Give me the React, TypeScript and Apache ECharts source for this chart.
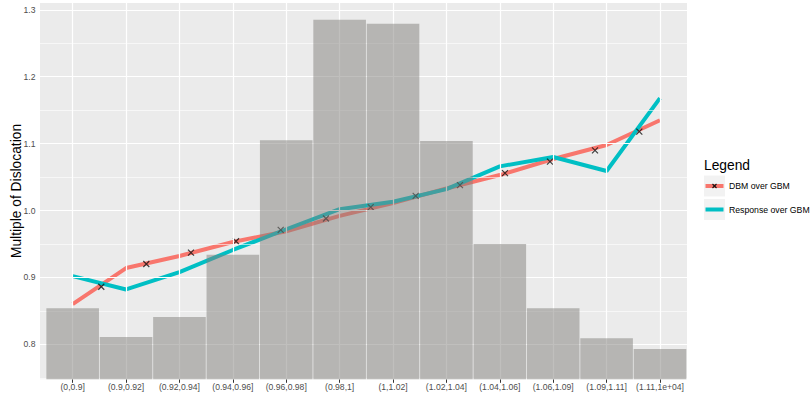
import { useEffect, useRef } from "react";
import * as echarts from "echarts";

// Return buckets on the x axis
const categories = [
  "(0,0.9]",
  "(0.9,0.92]",
  "(0.92,0.94]",
  "(0.94,0.96]",
  "(0.96,0.98]",
  "(0.98,1]",
  "(1,1.02]",
  "(1.02,1.04]",
  "(1.04,1.06]",
  "(1.06,1.09]",
  "(1.09,1.11]",
  "(1.11,1e+04]",
];

// Histogram heights per bucket (scaled to the dislocation axis)
const barValues = [0.854, 0.811, 0.841, 0.934, 1.105, 1.285, 1.279, 1.104, 0.95, 0.854, 0.809, 0.793];

// Line series, one value per bucket
const dbmOverGbm = [0.86, 0.914, 0.932, 0.953, 0.969, 0.992, 1.011, 1.033, 1.053, 1.077, 1.098, 1.135];
const responseOverGbm = [0.902, 0.882, 0.908, 0.941, 0.972, 1.002, 1.013, 1.032, 1.066, 1.08, 1.059, 1.168];

// DBM point estimates ("x" markers), x in bucket-index units
const markerX = [0.536, 1.379, 2.216, 3.059, 3.896, 4.744, 5.582, 6.424, 7.254, 8.097, 8.94, 9.783, 10.613];
const markerY = [0.886, 0.92, 0.937, 0.954, 0.971, 0.988, 1.005, 1.022, 1.038, 1.056, 1.073, 1.09, 1.118];

// Axis ticks
const yMajor = [0.8, 0.9, 1.0, 1.1, 1.2, 1.3];
const yMinor = [0.75, 0.85, 0.95, 1.05, 1.15, 1.25];
const xTicks = categories.map((_, i) => i);

const RED = "#F8766D";
const TEAL = "#00BFC4";
const FONT = "'Liberation Sans', Arial, Helvetica, sans-serif";

export default function App() {
  const ref = useRef<HTMLDivElement>(null);

  useEffect(() => {
    if (!ref.current) return;
    const chart = echarts.init(ref.current, null, { renderer: "svg" });

    const gridLines = [
      ...yMajor.map((v) => ({ yAxis: v, lineStyle: { color: "#FFFFFF", width: 1.2, type: "solid" } })),
      ...yMinor.map((v) => ({ yAxis: v, lineStyle: { color: "#FFFFFF", width: 0.6, type: "solid" } })),
      ...xTicks.map((v) => ({ xAxis: v, lineStyle: { color: "#FFFFFF", width: 1.2, type: "solid" } })),
    ];

    const xMark = "path://M0,0L10,10M10,0L0,10";

    chart.setOption({
      animation: false,
      textStyle: { fontFamily: FONT },
      grid: {
        left: 40,
        right: 125,
        top: 3,
        bottom: 16.7,
        show: true,
        backgroundColor: "#EBEBEB",
        borderWidth: 0,
        outerBoundsMode: "none",
      },
      xAxis: {
        type: "value",
        min: -0.612,
        max: 11.506,
        axisLine: { show: false },
        splitLine: { show: false },
        axisTick: {
          show: true,
          customValues: xTicks,
          length: 3.5,
          lineStyle: { color: "#333333", width: 1 },
        },
        axisLabel: {
          customValues: xTicks,
          formatter: (v: number) => categories[Math.round(v)] ?? "",
          color: "#4D4D4D",
          fontSize: 8.6,
          fontFamily: FONT,
          margin: 3,
        },
      },
      yAxis: {
        type: "value",
        min: 0.7477,
        max: 1.3102,
        axisLine: { show: false },
        splitLine: { show: false },
        axisTick: {
          show: true,
          customValues: yMajor,
          length: 3.5,
          lineStyle: { color: "#333333", width: 1 },
        },
        axisLabel: {
          customValues: yMajor,
          formatter: (v: number) => v.toFixed(1),
          color: "#4D4D4D",
          fontSize: 8.6,
          fontFamily: FONT,
          margin: 4.5,
        },
      },
      series: [
        {
          name: "grid",
          type: "line",
          data: [],
          z: 0,
          silent: true,
          markLine: {
            silent: true,
            symbol: ["none", "none"],
            label: { show: false },
            data: gridLines,
            animation: false,
          },
        },
        {
          name: "DBM over GBM",
          type: "line",
          data: dbmOverGbm.map((v, i) => [i, v]),
          showSymbol: false,
          symbol: "none",
          lineStyle: { color: RED, width: 4 },
          z: 2,
          silent: true,
        },
        {
          name: "Response over GBM",
          type: "line",
          data: responseOverGbm.map((v, i) => [i, v]),
          showSymbol: false,
          symbol: "none",
          lineStyle: { color: TEAL, width: 4 },
          z: 2,
          silent: true,
        },
        {
          name: "DBM points",
          type: "scatter",
          data: markerX.map((x, i) => [x, markerY[i]]),
          symbol: xMark,
          symbolSize: 6,
          itemStyle: { color: "rgba(0,0,0,0)", borderColor: "#111111", borderWidth: 1.2 },
          z: 3,
          silent: true,
        },
        {
          name: "histogram",
          type: "bar",
          data: barValues.map((v, i) => [i, v]),
          barWidth: 52.6,
          itemStyle: { color: "rgba(130,127,124,0.5)" },
          z: 10,
          silent: true,
        },
      ],
      graphic: [
        {
          type: "text",
          x: 16,
          y: 191,
          rotation: Math.PI / 2,
          style: {
            text: "Multiple of Dislocation",
            fontSize: 13.8,
            fontFamily: FONT,
            fill: "#000000",
            align: "center",
            verticalAlign: "middle",
          },
        },
        {
          type: "text",
          left: 704,
          top: 158,
          style: { text: "Legend", fontSize: 13.8, fontFamily: FONT, fill: "#000000" },
        },
        { type: "rect", shape: { x: 704, y: 175.5, width: 21, height: 21 }, style: { fill: "#F2F2F2" } },
        { type: "rect", shape: { x: 704, y: 199, width: 21, height: 21 }, style: { fill: "#F2F2F2" } },
        {
          type: "line",
          shape: { x1: 705.5, y1: 186, x2: 723.5, y2: 186 },
          style: { stroke: RED, lineWidth: 4 },
        },
        {
          type: "line",
          shape: { x1: 712.5, y1: 184, x2: 716.5, y2: 188 },
          style: { stroke: "#111111", lineWidth: 1.1 },
        },
        {
          type: "line",
          shape: { x1: 716.5, y1: 184, x2: 712.5, y2: 188 },
          style: { stroke: "#111111", lineWidth: 1.1 },
        },
        {
          type: "line",
          shape: { x1: 705.5, y1: 209.5, x2: 723.5, y2: 209.5 },
          style: { stroke: TEAL, lineWidth: 4 },
        },
        {
          type: "text",
          x: 729,
          y: 186,
          style: {
            text: "DBM over GBM",
            fontSize: 8.7,
            fontFamily: FONT,
            fill: "#000000",
            verticalAlign: "middle",
          },
        },
        {
          type: "text",
          x: 729,
          y: 209.5,
          style: {
            text: "Response over GBM",
            fontSize: 8.7,
            fontFamily: FONT,
            fill: "#000000",
            verticalAlign: "middle",
          },
        },
      ],
    });

    return () => chart.dispose();
  }, []);

  return (
    <div
      ref={ref}
      style={{ position: "fixed", left: 0, top: 0, width: 812, height: 396, background: "#FFFFFF" }}
    />
  );
}
